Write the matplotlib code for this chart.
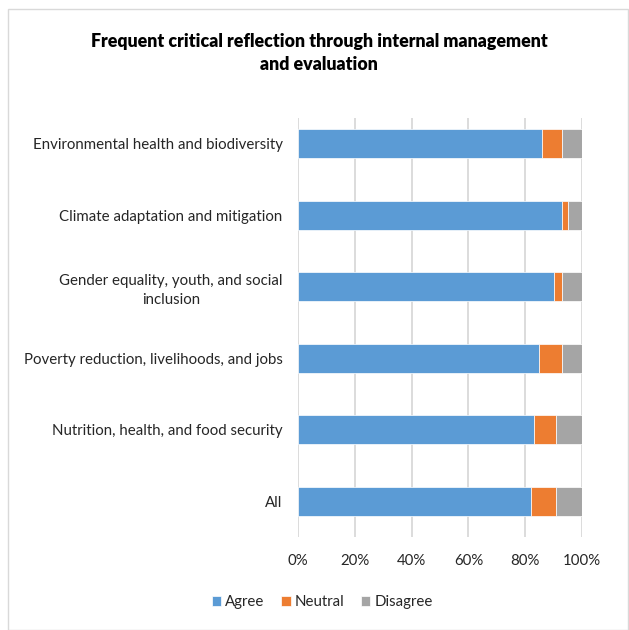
import numpy as np
import matplotlib.pyplot as plt
from matplotlib.patches import Rectangle

plt.rcParams['font.family'] = ['Lato', 'DejaVu Sans']

# Survey responses per theme (share of respondents, %)
categories = [
    'All',
    'Nutrition, health, and food security',
    'Poverty reduction, livelihoods, and jobs',
    'Gender equality, youth, and social\ninclusion',
    'Climate adaptation and mitigation',
    'Environmental health and biodiversity',
]
agree = [82, 83, 85, 90, 93, 86]
neutral = [9, 8, 8, 3, 2, 7]
disagree = [9, 9, 7, 7, 5, 7]

series = ['Agree', 'Neutral', 'Disagree']
colors = ['#5B9BD5', '#ED7D31', '#A5A5A5']
x_ticks = [0, 20, 40, 60, 80, 100]

fig = plt.figure(figsize=(6.29, 6.30), dpi=100)
W, H = 629, 630
txt = '#262626'

# light chart border
fig.patches.append(Rectangle((8 / W, 0), 620 / W, 621 / H, transform=fig.transFigure,
                             fill=False, edgecolor='#D9D9D9', linewidth=1.0))

ax = fig.add_axes([298 / W, 1 - 537 / H, (582 - 298) / W, (537 - 118) / H])

y = np.arange(len(categories))
left = np.zeros(len(categories))
for name, vals, c in zip(series, [agree, neutral, disagree], colors):
    ax.barh(y, vals, left=left, height=0.4, color=c, edgecolor='white',
            linewidth=0.5, label=name, zorder=3)
    left += np.array(vals)

ax.set_xlim(0, 100)
ax.set_ylim(-0.5, 5.36)
ax.set_xticks(x_ticks)
ax.set_xticklabels([f'{v}%' for v in x_ticks], fontsize=10.8, color=txt)
ax.set_yticks(y)
ax.set_yticklabels(categories, fontsize=10.8, color=txt, multialignment='center',
                   linespacing=1.4)
ax.tick_params(axis='both', length=0)
ax.tick_params(axis='y', pad=11)
ax.tick_params(axis='x', pad=12)
ax.xaxis.grid(True, color='#D9D9D9', linewidth=1.3, zorder=0)
for s in ax.spines.values():
    s.set_visible(False)

fig.text(319 / W, 1 - 53 / H,
         'Frequent critical reflection through internal management\nand evaluation',
         ha='center', va='center', fontsize=12.8, fontweight='heavy', color='#000000',
         linespacing=1.4)

fig.legend(loc='center', bbox_to_anchor=(322 / W, 1 - 602 / H), ncol=3, frameon=False,
           fontsize=10.8, handlelength=0.65, handleheight=0.65, handletextpad=0.25,
           columnspacing=1.1, labelcolor=txt)

fig.savefig('out.png', dpi=100)
